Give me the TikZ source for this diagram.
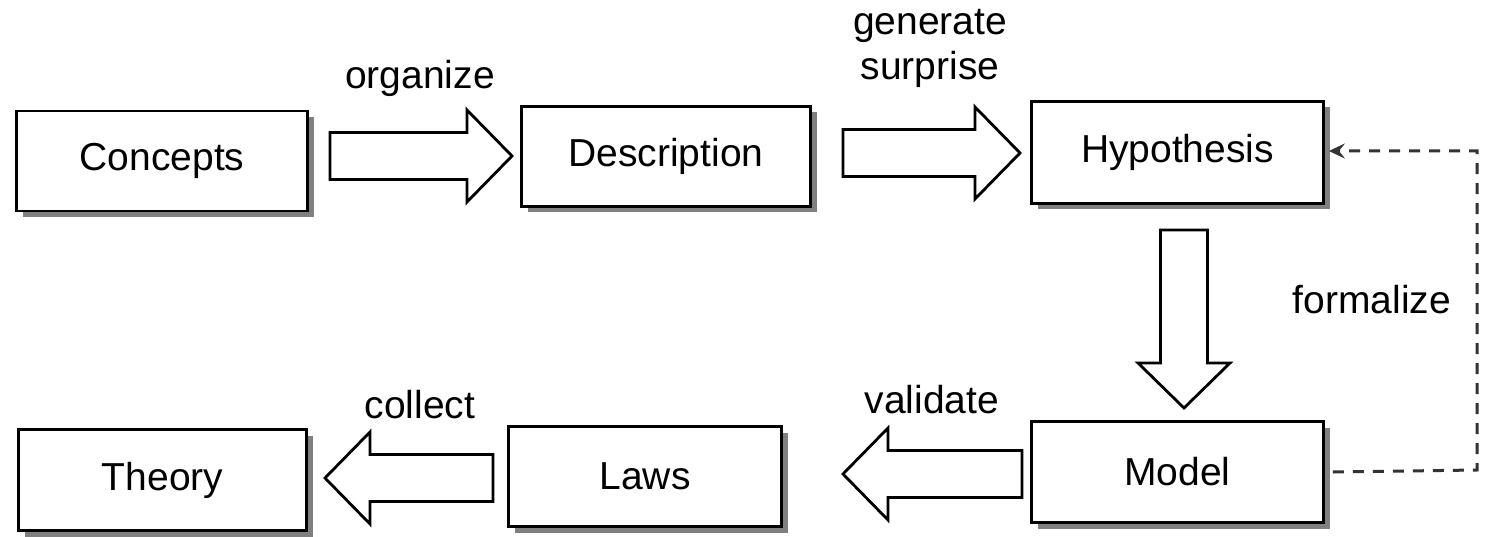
\documentclass[tikz,border=0pt]{standalone}
\usepackage{fontspec}
\setmainfont{Liberation Sans}
\usetikzlibrary{calc,shadows,arrows.meta}
\newcommand\blockarrow[2]{%
  \coordinate (ba-h) at ($(#2)!45pt!(#1)$);
  \draw[barrow] ($(#1)!23.5pt!90:(#2)$) -- ($(ba-h)!23.5pt!90:(#2)$) -- ($(ba-h)!46pt!90:(#2)$) -- (#2)
    -- ($(ba-h)!46pt!-90:(#2)$) -- ($(ba-h)!23.5pt!-90:(#2)$) -- ($(#1)!23.5pt!-90:(#2)$) -- cycle;}
\tikzset{
  box/.style={draw, line width=2.8pt, fill=white, inner sep=0pt,
    font=\fontsize{39}{45}\selectfont,
    drop shadow={shadow xshift=6pt, shadow yshift=-6pt, fill=black!50, opacity=1}},
  lbl/.style={font=\fontsize{39}{45}\selectfont, inner sep=0pt, align=center},
  barrow/.style={draw, line width=2.8pt, fill=white, line join=miter},
  dashlink/.style={draw=black!80, line width=3pt, dash pattern=on 11pt off 9pt}
}
\begin{document}
\begin{tikzpicture}[x=1pt,y=-1pt]
\useasboundingbox[fill=white] (0,0) rectangle (1486,537);
% boxes
\node[box, minimum width=291pt, minimum height=100pt] (concepts) at (162,161) {Concepts};
\node[box, minimum width=289pt, minimum height=100pt] (description) at (666,156.5) {Description};
\node[box, minimum width=292pt, minimum height=102pt] (hypothesis) at (1177.5,152.5) {Hypothesis};
\node[box, minimum width=292pt, minimum height=101pt] (model) at (1177.5,472) {Model};
\node[box, minimum width=273pt, minimum height=100pt] (laws) at (645,476.5) {Laws};
\node[box, minimum width=288pt, minimum height=101pt] (theory) at (162.5,480) {Theory};
% arrow end points
\coordinate (a1s) at (330,156);  \coordinate (a1t) at (512,156);
\coordinate (a2s) at (843,153);  \coordinate (a2t) at (1020,153);
\coordinate (a3s) at (1184,230); \coordinate (a3t) at (1184,408);
\coordinate (a4s) at (1022,474); \coordinate (a4t) at (843,474);
\coordinate (a5s) at (493,478);  \coordinate (a5t) at (325,478);
\blockarrow{a1s}{a1t}
\blockarrow{a2s}{a2t}
\blockarrow{a3s}{a3t}
\blockarrow{a4s}{a4t}
\blockarrow{a5s}{a5t}
% labels
\node[lbl] (organize) at (420,78) {organize};
\node[lbl] (generate) at (930,48) {generate\\surprise};
\node[lbl] (formalize) at (1372,300) {formalize};
\node[lbl] (validate) at (932,400) {validate};
\node[lbl] (collect) at (420,405) {collect};
% dashed feedback
\coordinate (dcorner1) at (1477,470);
\coordinate (dcorner2) at (1477,151);
\draw[dashlink, -{Stealth[length=16pt,width=15pt,inset=6pt]}]
  ([xshift=8pt]model.east) -- (dcorner1) -- (dcorner2) -- ([xshift=4pt]hypothesis.east |- dcorner2);
\end{tikzpicture}
\end{document}
